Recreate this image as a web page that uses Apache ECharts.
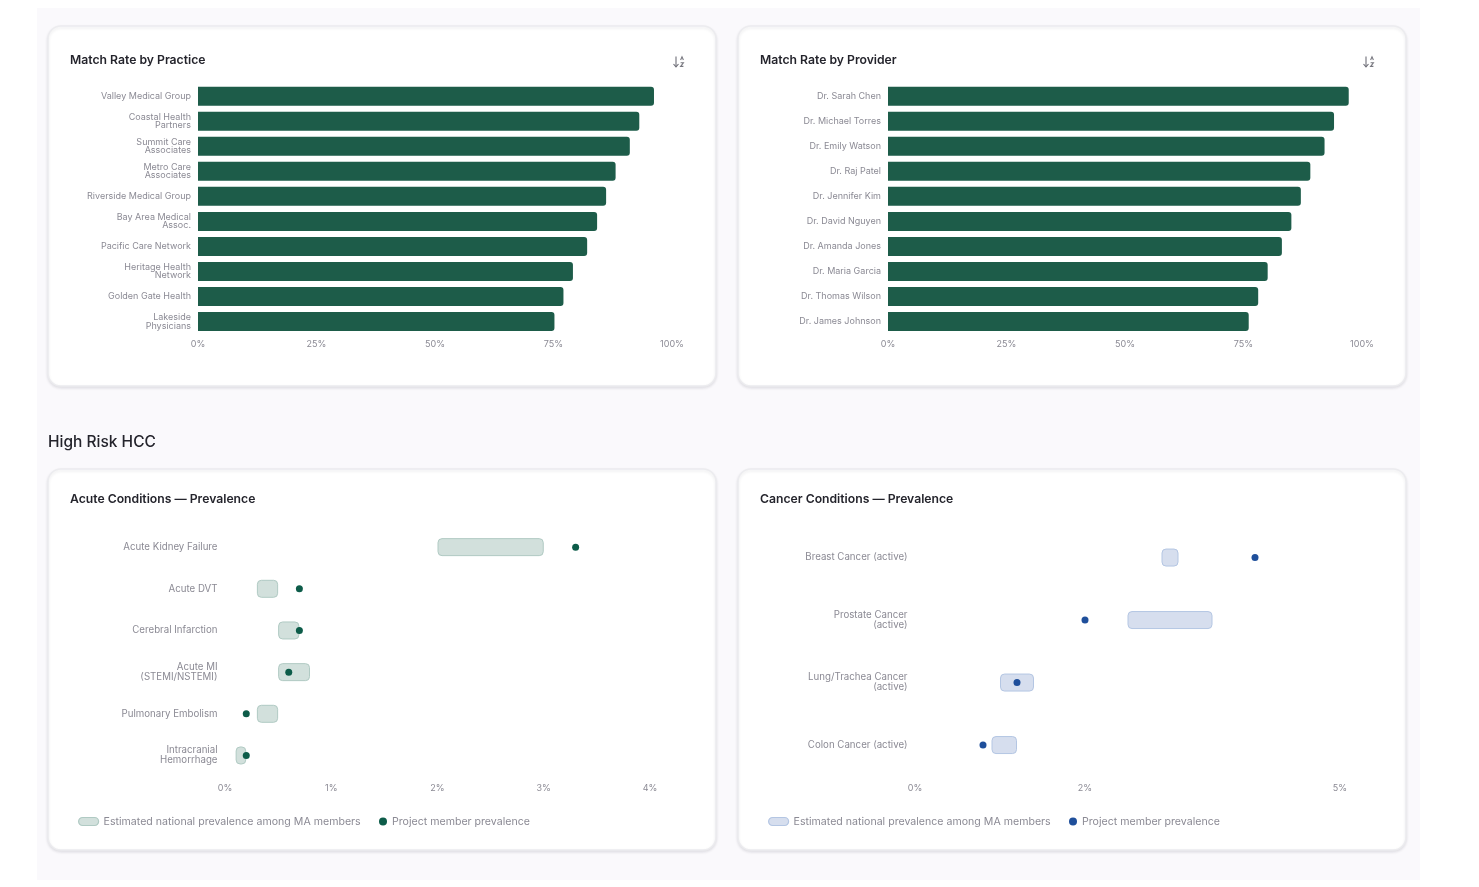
<!DOCTYPE html>
<html><head><meta charset="utf-8">
<style>html,body{margin:0;padding:0;background:#fff;overflow:hidden}#c{width:1479px;height:887px}</style>
<script src="https://cdn.jsdelivr.net/npm/echarts@6/dist/echarts.min.js"></script>
</head><body><div id="c"></div>
<script>
const practices=['Valley Medical Group','Coastal Health\nPartners','Summit Care\nAssociates','Metro Care\nAssociates','Riverside Medical Group','Bay Area Medical\nAssoc.','Pacific Care Network','Heritage Health\nNetwork','Golden Gate Health','Lakeside\nPhysicians'];
const practiceRates=[96.2,93.1,91.1,88.1,86.1,84.2,82.1,79.1,77.1,75.2];
const providers=['Dr. Sarah Chen','Dr. Michael Torres','Dr. Emily Watson','Dr. Raj Patel','Dr. Jennifer Kim','Dr. David Nguyen','Dr. Amanda Jones','Dr. Maria Garcia','Dr. Thomas Wilson','Dr. James Johnson'];
const providerRates=[97.2,94.1,92.1,89.1,87.1,85.1,83.1,80.1,78.1,76.1];
const acute=['Acute Kidney Failure','Acute DVT','Cerebral Infarction','Acute MI\n(STEMI/NSTEMI)','Pulmonary Embolism','Intracranial\nHemorrhage'];
const acuteLow=[2.0,0.3,0.5,0.5,0.3,0.1];
const acuteHigh=[3.0,0.5,0.7,0.8,0.5,0.2];
const acuteProject=[3.3,0.7,0.7,0.6,0.2,0.2];
const cancer=['Breast Cancer (active)','Prostate Cancer\n(active)','Lung/Trachea Cancer\n(active)','Colon Cancer (active)'];
const cancerLow=[2.9,2.5,1.0,0.9];
const cancerHigh=[3.1,3.5,1.4,1.2];
const cancerProject=[4.0,2.0,1.2,0.8];
const cancerTicks=[0,2,5];
const NAT='Estimated national prevalence among MA members', PROJ='Project member prevalence';
const FONT='Inter';
const GREY='#8b8a94';
const green={bar:'#1d5c49',fill:'#d2e0dc',border:'#b0cac3',dot:'#0d5c49'};
const blue={fill:'#d6deee',border:'#b4c6e3',dot:'#1f4f9b'};

function card(x,y,w,h){return {type:'rect',z:-5,shape:{x,y,width:w,height:h,r:13},
  style:{fill:'#fff',stroke:'#ececef',lineWidth:1.5,shadowColor:'rgba(30,30,50,0.10)',shadowBlur:3,shadowOffsetY:1.5}};}
function sortIcon(x,y){return {type:'group',x,y,z:1,children:[
  {type:'polyline',shape:{points:[[3,0.5],[3,10.5]]},style:{stroke:'#6f6f78',lineWidth:1.1,fill:null}},
  {type:'polyline',shape:{points:[[0.5,8],[3,10.8],[5.5,8]]},style:{stroke:'#6f6f78',lineWidth:1.1,fill:null}},
  {type:'polyline',shape:{points:[[7.6,4],[9,0.8],[10.4,4]]},style:{stroke:'#77777f',lineWidth:1.1,fill:null}},
  {type:'polyline',shape:{points:[[7.6,6.8],[10.4,6.8],[7.6,10.4],[10.4,10.4]]},style:{stroke:'#77777f',lineWidth:1.1,fill:null}}
]};}
const grids=[
 {left:198,width:474,top:83.6,height:250.5},
 {left:888,width:474,top:83.6,height:250.5},
 {left:225,width:425,top:526.3,height:250},
 {left:915,width:425,top:526.3,height:250}
];
const titles=[['Match Rate by Practice',70,60.5],['Match Rate by Provider',760,60.5],['Acute Conditions — Prevalence',70,499.5],['Cancer Conditions — Prevalence',760,499.5]];
function xAxis(i,max,interval,fmt,margin){return {type:'value',gridIndex:i,min:0,max,interval,
  axisLine:{show:false},axisTick:{show:false},splitLine:{show:false},
  axisLabel:{color:GREY,fontSize:9,fontFamily:FONT,margin,formatter:fmt,hideOverlap:false,showMinLabel:true,showMaxLabel:true}};}
function yAxis(i,data,size,lh,margin){return {type:'category',gridIndex:i,data,inverse:true,
  axisLine:{show:false},axisTick:{show:false},splitLine:{show:false},
  axisLabel:{color:GREY,fontSize:size,lineHeight:lh,fontFamily:FONT,margin,interval:0}};}
function rateSeries(i,vals){return {type:'bar',xAxisIndex:i,yAxisIndex:i,data:vals,barWidth:19,
  itemStyle:{color:green.bar,borderRadius:[0,3,3,0]},silent:true};}
function rangeSeries(i,low,high,c){return [
  {type:'bar',name:'base'+i,stack:'r'+i,xAxisIndex:i,yAxisIndex:i,data:low,barWidth:18,itemStyle:{color:'transparent'},silent:true},
  {type:'bar',name:NAT,stack:'r'+i,xAxisIndex:i,yAxisIndex:i,data:high.map((h,k)=>+(h-low[k]).toFixed(2)),barWidth:18,
   itemStyle:{color:c.fill,borderColor:c.border,borderWidth:1,borderRadius:4},silent:true},
  {type:'scatter',name:PROJ,xAxisIndex:i,yAxisIndex:i,z:5,symbolSize:7,silent:true,itemStyle:{color:c.dot,opacity:1}}
];}
function withDots(arr,proj){arr[2].data=proj.map((v,k)=>[v,k]);return arr;}
function legends(x,y,c){return [
 {left:x-5,top:y,orient:'horizontal',selectedMode:false,itemWidth:20,itemHeight:9,icon:'path://M4 0H16A4 4 0 0 1 16 8H4A4 4 0 0 1 4 0Z',
  textStyle:{color:GREY,fontSize:10.6,fontFamily:FONT},itemGap:6,
  data:[{name:NAT,itemStyle:{color:c.fill,borderColor:c.border,borderWidth:1.2},textStyle:{color:GREY}}]},
 {left:x+296,top:y,orient:'horizontal',selectedMode:false,itemWidth:8,itemHeight:9,icon:'circle',
  textStyle:{color:GREY,fontSize:10.6,fontFamily:FONT},
  data:[{name:PROJ,itemStyle:{color:c.dot,borderWidth:0},textStyle:{color:GREY}}]}
];}
const option={
 backgroundColor:'#fff',animation:false,
 grid:grids,
 title:titles.map(t=>({text:t[0],left:t[1],top:t[2],textVerticalAlign:'middle',padding:0,
    textStyle:{fontFamily:FONT,fontSize:12.2,fontWeight:600,color:'#24242c'}}))
   .concat([{text:'High Risk HCC',left:48,top:442,textVerticalAlign:'middle',padding:0,textStyle:{fontFamily:FONT,fontSize:15.5,fontWeight:500,color:'#24242c'}}]),
 xAxis:[xAxis(0,100,25,'{value}%',6),xAxis(1,100,25,'{value}%',6),xAxis(2,4,1,'{value}%',7),
   xAxis(3,5,1,v=>cancerTicks.includes(v)?v+'%':'',7)],
 yAxis:[yAxis(0,practices,9,8.5,7),yAxis(1,providers,9,8.5,7),yAxis(2,acute,9.7,10,7.5),yAxis(3,cancer,9.7,10,7.5)],
 legend:[...legends(78,811,green),...legends(768,811,blue)],
 series:[rateSeries(0,practiceRates),rateSeries(1,providerRates),
   ...withDots(rangeSeries(2,acuteLow,acuteHigh,green),acuteProject),
   ...withDots(rangeSeries(3,cancerLow,cancerHigh,blue),cancerProject)],
 graphic:{elements:[
   {type:'rect',z:-6,shape:{x:37,y:8,width:1383,height:872},style:{fill:'#faf9fc'}},
   card(48,26,668,360),card(738,26,668,360),card(48,469,668,381),card(738,469,668,381),
   sortIcon(673,56),sortIcon(1363,56)
 ]}
};
const chart=echarts.init(document.getElementById('c'));
chart.setOption(option);
</script></body></html>
